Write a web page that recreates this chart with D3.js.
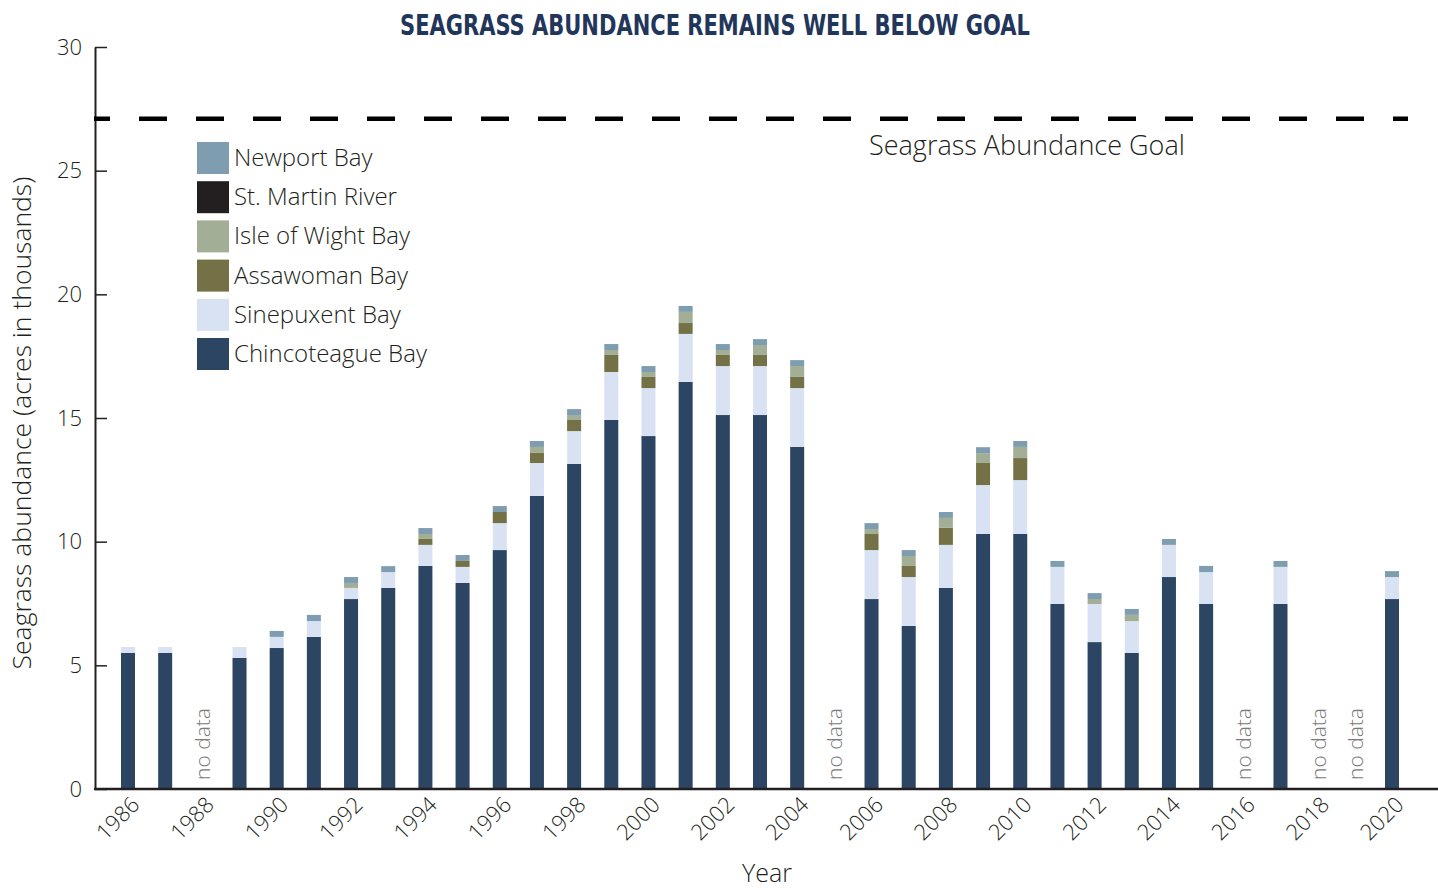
<!DOCTYPE html>
<html>
<head>
<meta charset="utf-8">
<script src="https://cdn.jsdelivr.net/npm/d3@7"></script>
<style>
  body { margin: 0; background: #fff; }
  text { font-family: "Open Sans", "Noto Sans", sans-serif; }
</style>
</head>
<body>
<div id="chart"></div>
<script>
// Years and per-bay acreage (thousands of acres); null = no data
const years = d3.range(1986, 2021);
const chincoteague = [5.50, 5.50, null, 5.30, 5.70, 6.15, 7.68, 8.13, 9.02, 8.33, 9.66, 11.85, 13.14, 14.92, 14.27, 16.46, 15.12, 15.12, 13.83, null, 7.68, 6.59, 8.13, 10.31, 10.31, 7.48, 5.94, 5.50, 8.57, 7.48, null, 7.48, null, null, 7.68];
const sinepuxent = [0.24, 0.24, null, 0.44, 0.45, 0.64, 0.45, 0.64, 0.85, 0.65, 1.09, 1.33, 1.33, 1.94, 1.94, 1.94, 1.98, 1.98, 2.38, null, 1.98, 1.98, 1.74, 1.98, 2.18, 1.50, 1.54, 1.29, 1.30, 1.29, null, 1.50, null, null, 0.89];
const assawoman = [0, 0, null, 0, 0, 0, 0, 0, 0.24, 0.24, 0.45, 0.41, 0.45, 0.69, 0.45, 0.44, 0.45, 0.45, 0.45, null, 0.65, 0.45, 0.69, 0.89, 0.89, 0, 0, 0, 0, 0, null, 0, null, null, 0];
const isleOfWight = [0, 0, null, 0, 0, 0, 0.20, 0, 0.20, 0, 0, 0.24, 0.20, 0.20, 0.20, 0.45, 0.20, 0.40, 0.44, null, 0.20, 0.40, 0.40, 0.40, 0.45, 0, 0.20, 0.25, 0, 0, null, 0, null, null, 0];
const stMartin = [0, 0, null, 0, 0, 0, 0, 0, 0, 0, 0, 0, 0, 0, 0, 0, 0, 0, 0, null, 0, 0, 0, 0, 0, 0, 0, 0, 0, 0, null, 0, null, null, 0];
const newport = [0, 0, null, 0, 0.24, 0.25, 0.24, 0.24, 0.24, 0.24, 0.24, 0.24, 0.24, 0.24, 0.24, 0.24, 0.24, 0.24, 0.24, null, 0.24, 0.24, 0.24, 0.24, 0.24, 0.24, 0.24, 0.24, 0.24, 0.25, null, 0.24, null, null, 0.24];
const goal = 27.1;
const yTicks = [0, 5, 10, 15, 20, 25, 30];
const xTickYears = years.filter(y => y % 2 === 0);

const series = [
  { key: "Chincoteague Bay", values: chincoteague, color: "#2b4562" },
  { key: "Sinepuxent Bay", values: sinepuxent, color: "#d9e2f2" },
  { key: "Assawoman Bay", values: assawoman, color: "#737145" },
  { key: "Isle of Wight Bay", values: isleOfWight, color: "#a2ae95" },
  { key: "St. Martin River", values: stMartin, color: "#231f20" },
  { key: "Newport Bay", values: newport, color: "#7f9db0" }
];

const width = 1438, height = 888;
const svg = d3.select("#chart").append("svg")
  .attr("width", width)
  .attr("height", height);

// Table for the stack
const rows = years.map((yr, i) => {
  const r = { year: yr, missing: chincoteague[i] === null };
  series.forEach(s => r[s.key] = s.values[i] || 0);
  return r;
});

const x = d3.scaleBand()
  .domain(years)
  .range([109.4, 1410.6])
  .paddingInner(0.623)
  .paddingOuter(0.3115);

const y = d3.scaleLinear()
  .domain([0, 30])
  .range([789, 47]);

const stacked = d3.stack().keys(series.map(s => s.key))(rows);

// Bars
svg.append("g").selectAll("g")
  .data(stacked)
  .join("g")
  .attr("fill", (d, i) => series[i].color)
  .selectAll("rect")
  .data(d => d.filter(p => !p.data.missing && p[1] > p[0]))
  .join("rect")
  .attr("x", d => x(d.data.year))
  .attr("width", x.bandwidth())
  .attr("y", d => y(d[1]))
  .attr("height", d => y(d[0]) - y(d[1]));

// "no data" labels
svg.append("g").selectAll("text")
  .data(rows.filter(r => r.missing))
  .join("text")
  .attr("transform", d => `translate(${x(d.year) + x.bandwidth() / 2 + 8},780) rotate(-90)`)
  .attr("fill", "#7a7a7a")
  .style("font-size", "21px")
  .style("font-weight", 300)
  .text("no data");

// Y axis (ticks pointing inward)
const yAxis = svg.append("g")
  .attr("transform", "translate(95,0)")
  .call(d3.axisLeft(y).tickValues(yTicks).tickSizeInner(-12).tickSizeOuter(0).tickPadding(13));
yAxis.select(".domain").attr("stroke", "#231f20").attr("stroke-width", 2);
yAxis.selectAll(".tick line").attr("stroke", "#231f20").attr("stroke-width", 1.5);
yAxis.selectAll(".tick text")
  .attr("fill", "#231f20")
  .style("font-size", "22px")
  .style("font-weight", 300)
  .style("font-family", "\"Open Sans\", sans-serif");

// X axis baseline
svg.append("line")
  .attr("x1", 94).attr("x2", 1438)
  .attr("y1", y(0)).attr("y2", y(0))
  .attr("stroke", "#231f20")
  .attr("stroke-width", 2.5);

// X tick labels
svg.append("g").selectAll("text")
  .data(xTickYears)
  .join("text")
  .attr("transform", d => `translate(${x(d) + x.bandwidth() / 2 + 13},806) rotate(-45)`)
  .attr("text-anchor", "end")
  .attr("fill", "#231f20")
  .style("font-size", "22px")
  .style("font-weight", 300)
  .text(d => d);

// Goal line
svg.append("line")
  .attr("x1", 94).attr("x2", 1408)
  .attr("y1", y(goal)).attr("y2", y(goal))
  .attr("stroke", "#000")
  .attr("stroke-width", 4.5)
  .attr("stroke-dasharray", "28,29")
  .attr("stroke-dashoffset", 12);

svg.append("text")
  .attr("x", 869)
  .attr("y", 155)
  .attr("fill", "#231f20")
  .style("font-size", "27px")
  .style("font-weight", 300)
  .text("Seagrass Abundance Goal");

// Legend (top series first)
const legend = svg.append("g")
  .selectAll("g")
  .data(series.slice().reverse())
  .join("g")
  .attr("transform", (d, i) => `translate(197,${142 + i * 39.2})`);
legend.append("rect")
  .attr("width", 32)
  .attr("height", 32)
  .attr("fill", d => d.color);
legend.append("text")
  .attr("x", 37)
  .attr("y", 24)
  .attr("fill", "#231f20")
  .style("font-size", "24px")
  .style("font-weight", 300)
  .text(d => d.key);

// Axis titles
svg.append("text")
  .attr("transform", "translate(31,423) rotate(-90)")
  .attr("text-anchor", "middle")
  .attr("fill", "#231f20")
  .style("font-size", "26.5px")
  .style("font-weight", 300)
  .text("Seagrass abundance (acres in thousands)");

svg.append("text")
  .attr("x", 767)
  .attr("y", 882)
  .attr("text-anchor", "middle")
  .attr("fill", "#231f20")
  .style("font-size", "25px")
  .style("font-weight", 300)
  .text("Year");

// Title
svg.append("text")
  .attr("x", 715)
  .attr("y", 35)
  .attr("text-anchor", "middle")
  .attr("fill", "#22355b")
  .attr("textLength", 630)
  .attr("lengthAdjust", "spacingAndGlyphs")
  .style("font-family", "\"DejaVu Sans Condensed\", \"Liberation Sans Narrow\", \"DejaVu Sans\", sans-serif")
  .style("font-weight", "bold")
  .style("font-size", "29px")
  .text("SEAGRASS ABUNDANCE REMAINS WELL BELOW GOAL");
</script>
</body>
</html>
